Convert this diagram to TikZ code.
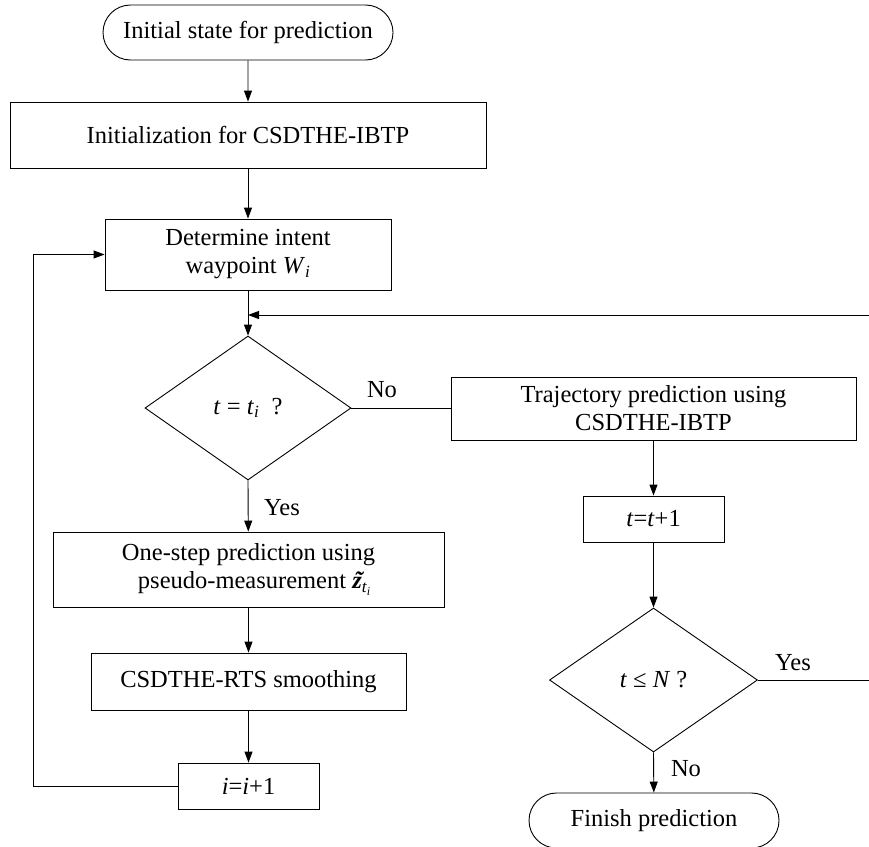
\documentclass[tikz,border=0pt]{standalone}
\usepackage{fontspec}
\setmainfont{Liberation Serif}
\usetikzlibrary{arrows.meta,shapes.geometric,shapes.misc}
% bold italic z with a tilde set over it
\newcommand{\ztilde}{\textbf{\textit{\ooalign{z\cr\hidewidth\kern0.12em ˜\hidewidth\cr}}}}
\begin{document}
\begin{tikzpicture}[x=1pt,y=-1pt,
  txt/.style={font=\fontsize{24.5}{28}\selectfont},
  flowline/.style={line width=0.9pt},
  arr/.style={flowline,-{Triangle[length=11pt,width=8pt]}},
  procbox/.style={txt,draw,line width=0.9pt,inner sep=0pt,align=center,rectangle},
  termbox/.style={txt,draw,line width=0.9pt,inner sep=0pt,rounded rectangle},
  decision/.style={txt,draw,line width=0.9pt,inner sep=0pt,diamond},
  tag/.style={txt,inner sep=0pt}
]
\useasboundingbox (0,0) rectangle (869,846);
\clip (0,0) rectangle (869,846);

% main column
\node[termbox,minimum width=290,minimum height=55] (start) at (248,32.5) {Initial state for prediction};
\node[procbox,minimum width=476,minimum height=66] (init) at (248,135) {Initialization for CSDTHE-IBTP};
\node[procbox,minimum width=286,minimum height=71] (det) at (248,254.5) {Determine intent\\waypoint \textit{W}\textsubscript{\textit{i}}};
\coordinate (jn) at (248,315);
\node[decision,minimum width=206,minimum height=144] (d1) at (248,408) {\textit{t} = \textit{t}\textsubscript{\textit{i}}\ \ ?};
\node[procbox,minimum width=391,minimum height=75] (onestep) at (248.5,569.5) {One-step prediction using\\\ \ pseudo-measurement \ztilde\textsubscript{\textit{t}\textsubscript{\textit{i}}}};
\node[procbox,minimum width=315,minimum height=57] (rts) at (248.5,681.5) {CSDTHE-RTS smoothing};
\node[procbox,minimum width=141,minimum height=46] (inc) at (248.5,786) {\textit{i}=\textit{i}+1};

% right column
\node[procbox,minimum width=405,minimum height=63] (traj) at (653.5,408.5) {Trajectory prediction using\\CSDTHE-IBTP};
\node[procbox,minimum width=141,minimum height=46] (tinc) at (653.5,519) {\textit{t}=\textit{t}+1};
\node[decision,minimum width=208,minimum height=144] (d2) at (653.5,680) {\textit{t} ≤ \textit{N} ?};
\node[termbox,minimum width=250,minimum height=55] (finish) at (654,820.5) {Finish prediction};

% branch labels
\node[tag] (no1) at (382,390) {No};
\node[tag] (yes1) at (282,508) {Yes};
\node[tag] (yes2) at (793,663) {Yes};
\node[tag] (no2) at (686,769) {No};

% loop corners
\coordinate (lloop) at (33,786);
\coordinate (rloop) at (872,680);

% connectors
\draw[arr] (start) -- (init);
\draw[arr] (init) -- (det);
\draw[flowline] (det) -- (jn);
\draw[arr] (jn) -- (d1.north);
\draw[flowline] (d1.east) -- (traj.west |- d1.east);
\draw[arr] (d1.south) -- (onestep);
\draw[arr] (onestep) -- (rts);
\draw[arr] (rts) -- (inc);
\draw[arr] (inc.west) -- (lloop) |- (det.west);
\draw[arr] (traj) -- (tinc);
\draw[arr] (tinc) -- (d2.north);
\draw[arr] (d2.south) -- (finish);
\draw[arr] (d2.east) -- (rloop) |- (jn);
\end{tikzpicture}
\end{document}
